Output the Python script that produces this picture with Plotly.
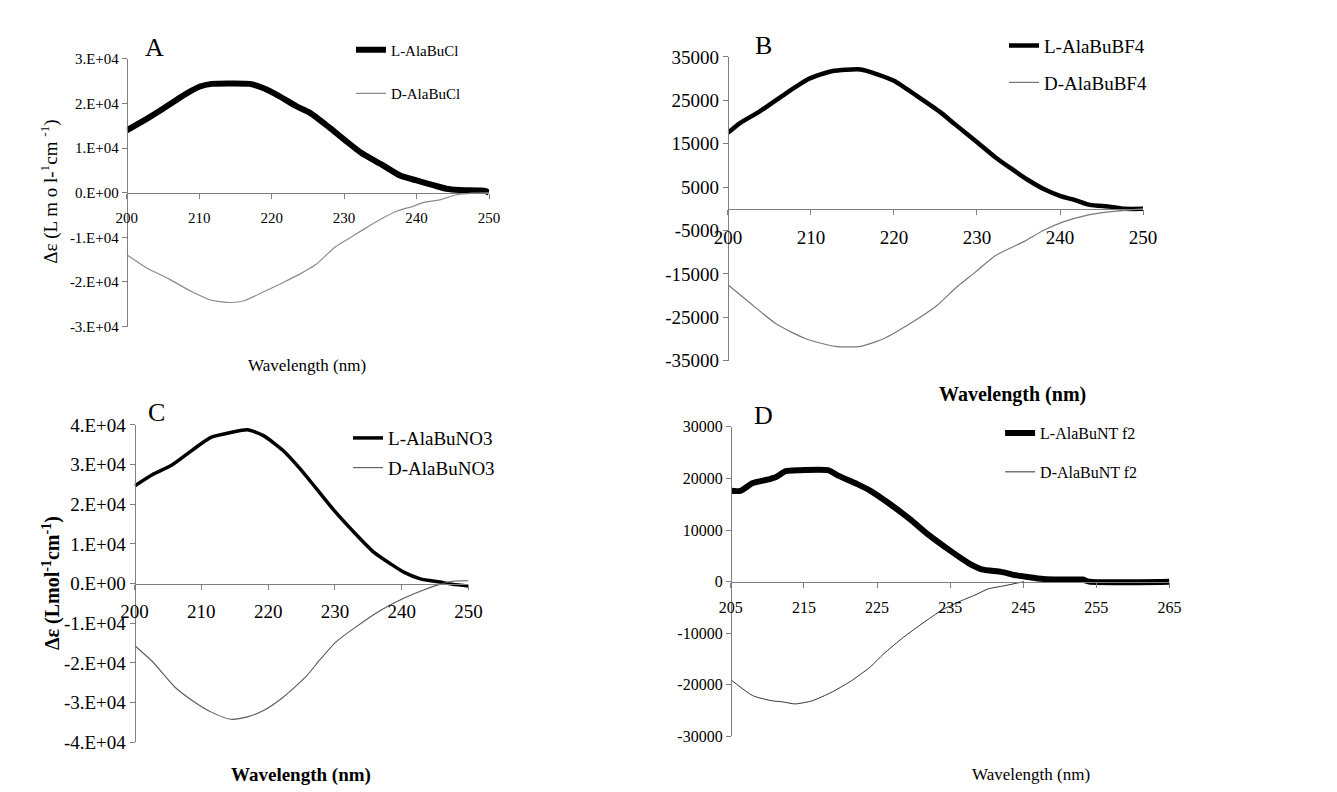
import plotly.graph_objects as go

# ---------------- data ----------------
# Panel A
a_wl_L = [200, 202.7, 204.9, 208, 210.1, 211.7, 214, 217, 218.9, 221.1, 223.4, 225.2, 227.9, 230.1, 232.4, 235.1, 237.8, 240, 242.3, 244.1, 245.9, 249.5, 250]
a_L = [14000, 16500, 18700, 22000, 23800, 24400, 24500, 24400, 23400, 21600, 19400, 18000, 14700, 11800, 8900, 6400, 3800, 2750, 1700, 900, 600, 400, -100]
a_wl_D = [200, 202.7, 205.8, 209, 211.7, 214.4, 216.2, 218.9, 221.6, 223.8, 226.1, 228.8, 230.6, 232.8, 235.1, 237.3, 239.6, 240.9, 243.2, 245.4, 247.7, 250]
a_D = [-13900, -16800, -19300, -22200, -24100, -24600, -24200, -22200, -20100, -18300, -16100, -12100, -10300, -8100, -5900, -4100, -3000, -2200, -1600, -500, -100, 0]

# Panel B
b_wl_L = [200, 201.5, 203.8, 206.6, 209.7, 212.5, 216, 218, 220, 222.7, 225.5, 227.4, 229.8, 232.2, 234.1, 236.1, 238.1, 240, 242, 243.6, 245.9, 247.8, 250]
b_L = [17500, 19800, 22400, 26100, 29900, 31700, 32100, 31000, 29500, 26100, 22400, 19400, 15700, 11900, 9300, 6700, 4500, 3000, 1900, 900, 500, 0, 0]
b_wl_D = [200, 202.6, 205.8, 209.3, 212.9, 216, 218.8, 221.9, 225.1, 227.4, 229.8, 232.2, 235.7, 238.1, 240.4, 243.2, 245.9, 250]
b_D = [-17500, -21600, -26500, -29900, -31700, -31700, -29900, -26500, -22400, -18300, -14600, -10800, -7500, -4900, -3000, -1500, -700, 0]

# Panel C
c_wl_L = [200, 202.7, 205.6, 208.6, 211.5, 214.4, 216.9, 219.3, 222.2, 224.7, 227.1, 230.1, 233, 235.9, 238.4, 240.3, 242.8, 245.7, 247.7, 250]
c_L = [24600, 27500, 29900, 33600, 36900, 38100, 38800, 37300, 33600, 29100, 24200, 18000, 12700, 7800, 4900, 2900, 1200, 400, -200, -600]
c_wl_D = [200, 202.7, 206.1, 209, 211.5, 214.4, 216.9, 219.3, 222.2, 225.7, 227.7, 230.1, 233, 237, 240.3, 243.3, 245.7, 247.7, 250]
c_D = [-15600, -19700, -26200, -29900, -32400, -34200, -33600, -32000, -28700, -23400, -19300, -14800, -11100, -6600, -3700, -1600, -200, 600, 700]

# Panel D
d_wl_L = [205, 206.3, 208, 209.8, 211.2, 212.5, 214.3, 218.3, 219.6, 222.3, 224.1, 226.8, 229.5, 232.1, 234.8, 237.5, 239.3, 242, 243.8, 245.6, 247.8, 250, 253.1, 254, 265]
d_L = [17600, 17600, 19100, 19700, 20300, 21400, 21600, 21600, 20600, 18900, 17600, 15000, 12100, 9000, 6200, 3600, 2400, 1900, 1300, 900, 500, 400, 400, 0, 0]
d_wl_D = [205, 208, 210.7, 212.1, 213.8, 216.1, 218.7, 221.4, 224.1, 225.9, 228.6, 231.3, 233.9, 236.2, 238.4, 240.2, 242.4, 245.1]
d_D = [-19000, -22100, -23100, -23300, -23700, -23100, -21500, -19300, -16500, -14000, -10800, -8000, -5500, -3900, -2600, -1400, -800, 0]

# tick labels
a_yticks = [-30000, -20000, -10000, 0, 10000, 20000, 30000]
a_yticktext = ["-3.E+04", "-2.E+04", "-1.E+04", "0.E+00", "1.E+04", "2.E+04", "3.E+04"]
b_yticks = [-35000, -25000, -15000, -5000, 5000, 15000, 25000, 35000]
c_yticks = [-40000, -30000, -20000, -10000, 0, 10000, 20000, 30000, 40000]
c_yticktext = ["-4.E+04", "-3.E+04", "-2.E+04", "-1.E+04", "0.E+00", "1.E+04", "2.E+04", "3.E+04", "4.E+04"]
d_yticks = [-30000, -20000, -10000, 0, 10000, 20000, 30000]
abc_xticks = [200, 210, 220, 230, 240, 250]
d_xticks = [205, 215, 225, 235, 245, 255, 265]

names = {
    "A": ("L-AlaBuCl", "D-AlaBuCl"),
    "B": ("L-AlaBuBF4", "D-AlaBuBF4"),
    "C": ("L-AlaBuNO3", "D-AlaBuNO3"),
    "D": ("L-AlaBuNT f2", "D-AlaBuNT f2"),
}

# ---------------- layout helpers ----------------
W, H = 1337, 792
FONT = "Liberation Serif, Times New Roman, serif"
AX = "#7f7f7f"


def px(x):
    return x / W


def py(y):
    return 1 - y / H


panels = {
    "A": ("x", "y", 107, 477, 42, 317, [200, 250], [-30000, 30000], "legend"),
    "B": ("x2", "y2", 721, 1145, 40, 352, [200, 250], [-35000, 35000], "legend2"),
    "C": ("x3", "y3", 115, 456, 418, 744, [200, 250], [-40000, 40000], "legend3"),
    "D": ("x4", "y4", 724, 1172, 420, 738, [205, 265], [-30000, 30000], "legend4"),
}

data = {
    "A": (a_wl_L, a_L, a_wl_D, a_D),
    "B": (b_wl_L, b_L, b_wl_D, b_D),
    "C": (c_wl_L, c_L, c_wl_D, c_D),
    "D": (d_wl_L, d_L, d_wl_D, d_D),
}

styles = {
    "A": (6, "#8c8c8c", 1.2, 15),
    "B": (4.5, "#7a7a7a", 1.2, 19),
    "C": (3.5, "#5a5a5a", 1.1, 19),
    "D": (6, "#333333", 1.0, 16),
}

fig = go.Figure()
axes_layout = {}

for key in ["A", "B", "C", "D"]:
    xa, ya, x0, x1, yt, yb, xr, yr, lg = panels[key]
    wlL, vL, wlD, vD = data[key]
    lw, dcol, dw, fs = styles[key]
    nL, nD = names[key]
    fig.add_trace(go.Scatter(x=wlL, y=vL, mode="lines", name=nL, xaxis=xa, yaxis=ya,
                             line=dict(color="black", width=lw, shape="spline", smoothing=0.6),
                             legend=lg, legendgroup=key + "L"))
    fig.add_trace(go.Scatter(x=wlD, y=vD, mode="lines", name=nD, xaxis=xa, yaxis=ya,
                             line=dict(color=dcol, width=dw, shape="spline", smoothing=0.6),
                             legend=lg, legendgroup=key + "D"))

    xdom = [px(x0), px(x1)]
    ydom = [py(yb), py(yt)]
    zero_pos = ydom[0] + (0 - yr[0]) / (yr[1] - yr[0]) * (ydom[1] - ydom[0])
    xname = "xaxis" if xa == "x" else "xaxis" + xa[1:]
    yname = "yaxis" if ya == "y" else "yaxis" + ya[1:]
    xticks = d_xticks if key == "D" else abc_xticks
    axes_layout[xname] = dict(
        domain=xdom, range=xr, anchor="free", position=zero_pos,
        tickmode="array", tickvals=xticks, ticks="outside", ticklen=5, tickcolor=AX, tickwidth=1,
        showline=True, linecolor=AX, linewidth=1, showgrid=False, zeroline=False,
        tickfont=dict(family=FONT, size=fs, color="black"), ticklabelstandoff=6,
    )
    if key == "A":
        tv, tt = a_yticks, a_yticktext
    elif key == "B":
        tv, tt = b_yticks, [str(v) for v in b_yticks]
    elif key == "C":
        tv, tt = c_yticks, c_yticktext
    else:
        tv, tt = d_yticks, [str(v) for v in d_yticks]
    axes_layout[yname] = dict(
        domain=ydom, range=yr, anchor="free", position=xdom[0],
        tickmode="array", tickvals=tv, ticktext=tt,
        ticks="outside", ticklen=5, tickcolor=AX, tickwidth=1,
        showline=True, linecolor=AX, linewidth=1, showgrid=False, zeroline=False,
        tickfont=dict(family=FONT, size=fs, color="black"),
    )

fig.update_layout(**axes_layout)

legend_common = dict(bgcolor="rgba(0,0,0,0)", borderwidth=0, xanchor="left", yanchor="top",
                     itemclick=False, itemdoubleclick=False)
fig.update_layout(
    legend=dict(x=px(336), y=py(16), font=dict(family=FONT, size=15, color="black"),
                tracegroupgap=21, **legend_common),
    legend2=dict(x=px(1003), y=py(9), font=dict(family=FONT, size=19, color="black"),
                 tracegroupgap=9, **legend_common),
    legend3=dict(x=px(333), y=py(412), font=dict(family=FONT, size=19, color="black"),
                 tracegroupgap=2, **legend_common),
    legend4=dict(x=px(999), y=py(409), font=dict(family=FONT, size=16, color="black"),
                 tracegroupgap=15, **legend_common),
)

annotations = [
    dict(text="A", x=px(135), y=py(30), font=dict(size=26)),
    dict(text="B", x=px(757), y=py(28), font=dict(size=26)),
    dict(text="C", x=px(137), y=py(405), font=dict(size=26)),
    dict(text="D", x=px(757), y=py(408), font=dict(size=26)),
    dict(text="Wavelength (nm)", x=px(291), y=py(357), font=dict(size=17)),
    dict(text="<b>Wavelength (nm)</b>", x=px(1012), y=py(387), font=dict(size=20)),
    dict(text="<b>Wavelength (nm)</b>", x=px(285), y=py(778), font=dict(size=19)),
    dict(text="Wavelength (nm)", x=px(1031), y=py(777), font=dict(size=17)),
    dict(text="Δε (L m o l-<sup>1</sup>cm <sup>-1</sup>)", x=px(28), y=py(178), textangle=-90,
         font=dict(size=19)),
    dict(text="<b>Δε (Lmol<sup>-1</sup>cm<sup>-1</sup>)</b>", x=px(30), y=py(580), textangle=-90,
         font=dict(size=20)),
]
for a in annotations:
    a.update(xref="paper", yref="paper", showarrow=False, xanchor="center", yanchor="middle")
    a["font"].update(family=FONT, color="black")

fig.update_layout(
    annotations=annotations,
    width=W, height=H,
    font=dict(family=FONT, color="black"),
    margin=dict(l=0, r=0, t=0, b=0),
    paper_bgcolor="white", plot_bgcolor="white",
    showlegend=True,
)

fig.write_html("out.html")
